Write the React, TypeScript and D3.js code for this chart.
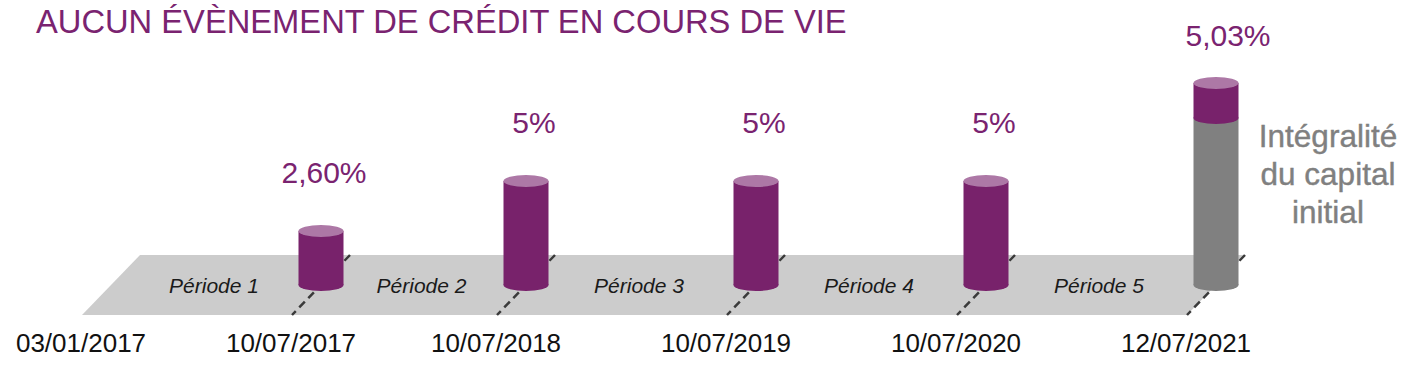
import React from "react";
import * as d3 from "d3";

const TITLE = "AUCUN ÉVÈNEMENT DE CRÉDIT EN COURS DE VIE";
const DATES = ["03/01/2017", "10/07/2017", "10/07/2018", "10/07/2019", "10/07/2020", "12/07/2021"];
const PERIODS = ["Période 1", "Période 2", "Période 3", "Période 4", "Période 5"];
const COUPONS = [2.6, 5, 5, 5, 5.03];
const COUPON_LABELS = ["2,60%", "5%", "5%", "5%", "5,03%"];
const CAPITAL = 100;
const CAPITAL_LABEL = ["Intégralité", "du capital", "initial"];

const W = 1428;
const H = 366;
const PURPLE = "#78226B";
const PURPLE_LIGHT = "#AD78A6";
const GREY = "#808080";
const FLOOR = "#CCCCCC";
const FONT = "'Liberation Sans', Arial, Helvetica, sans-serif";

export default function App() {
  const floorTop = 255;
  const floorBot = 315;
  const baseY = 285;
  const slant = 29;

  const x = d3.scaleLinear().domain([0, 1, 2, 5]).range([111, 321, 526, 1216]);
  const h = d3.scaleLinear().domain([0, 5]).range([0, 104]);
  const hCap = d3.scaleLinear().domain([0, CAPITAL]).range([0, 167]);
  const hFinalCoupon = d3.scaleLinear().domain([0, 5.03]).range([0, 35]);

  const rx = 22.5;
  const ry = 6;
  const n = DATES.length;
  const last = n - 1;

  const floorPts = [
    [x(0) + slant, floorTop],
    [x(last) + slant, floorTop],
    [x(last) - slant, floorBot],
    [x(0) - slant, floorBot],
  ];

  return (
    <svg width={W} height={H} style={{ position: "absolute", left: 0, top: 0, background: "#fff" }} fontFamily={FONT}>
      <text x={36} y={33} fontSize={32.7} fill="#7A2370">{TITLE}</text>

      <polygon points={floorPts.map((p) => p.join(",")).join(" ")} fill={FLOOR} />

      {PERIODS.map((p, i) => (
        <text key={p} x={(x(i) + x(i + 1)) / 2 - 2} y={293} fontSize={21} fontStyle="italic" textAnchor="middle" fill="#1a1a1a">
          {p}
        </text>
      ))}

      {DATES.map((d, i) =>
        i === 0 ? null : (
          <line key={"dl" + d} x1={x(i) + slant} y1={floorTop} x2={x(i) - slant} y2={floorBot}
            stroke="#3a3a3a" strokeWidth={2.5} strokeDasharray="8,5" />
        )
      )}

      {COUPONS.map((v, i) => {
        const cx = x(i + 1);
        if (i === COUPONS.length - 1) {
          const split = baseY - hCap(CAPITAL);
          const top = split - hFinalCoupon(v);
          return (
            <g key={"c" + i}>
              <ellipse cx={cx} cy={baseY} rx={rx} ry={ry} fill={GREY} />
              <rect x={cx - rx} y={split} width={rx * 2} height={baseY - split} fill={GREY} />
              <ellipse cx={cx} cy={split} rx={rx} ry={ry} fill={PURPLE} />
              <rect x={cx - rx} y={top} width={rx * 2} height={split - top} fill={PURPLE} />
              <ellipse cx={cx} cy={top} rx={rx} ry={ry} fill={PURPLE_LIGHT} />
              <text x={cx + 12} y={top - 37} fontSize={30} textAnchor="middle" fill="#7A2370">{COUPON_LABELS[i]}</text>
            </g>
          );
        }
        const top = baseY - h(v);
        return (
          <g key={"c" + i}>
            <ellipse cx={cx} cy={baseY} rx={rx} ry={ry} fill={PURPLE} />
            <rect x={cx - rx} y={top} width={rx * 2} height={baseY - top} fill={PURPLE} />
            <ellipse cx={cx} cy={top} rx={rx} ry={ry} fill={PURPLE_LIGHT} />
            <text x={cx + (i === 0 ? 3 : 8)} y={top - 48} fontSize={30} textAnchor="middle" fill="#7A2370">{COUPON_LABELS[i]}</text>
          </g>
        );
      })}

      {CAPITAL_LABEL.map((t, i) => (
        <text key={t} x={1328} y={147 + i * 38} fontSize={31.5} textAnchor="middle" fill={GREY}
          stroke={GREY} strokeWidth={0.4}>{t}</text>
      ))}

      {DATES.map((d, i) => (
        <text key={d} x={x(i) - slant - 1} y={352} fontSize={26} textAnchor="middle" fill="#111">{d}</text>
      ))}
    </svg>
  );
}
